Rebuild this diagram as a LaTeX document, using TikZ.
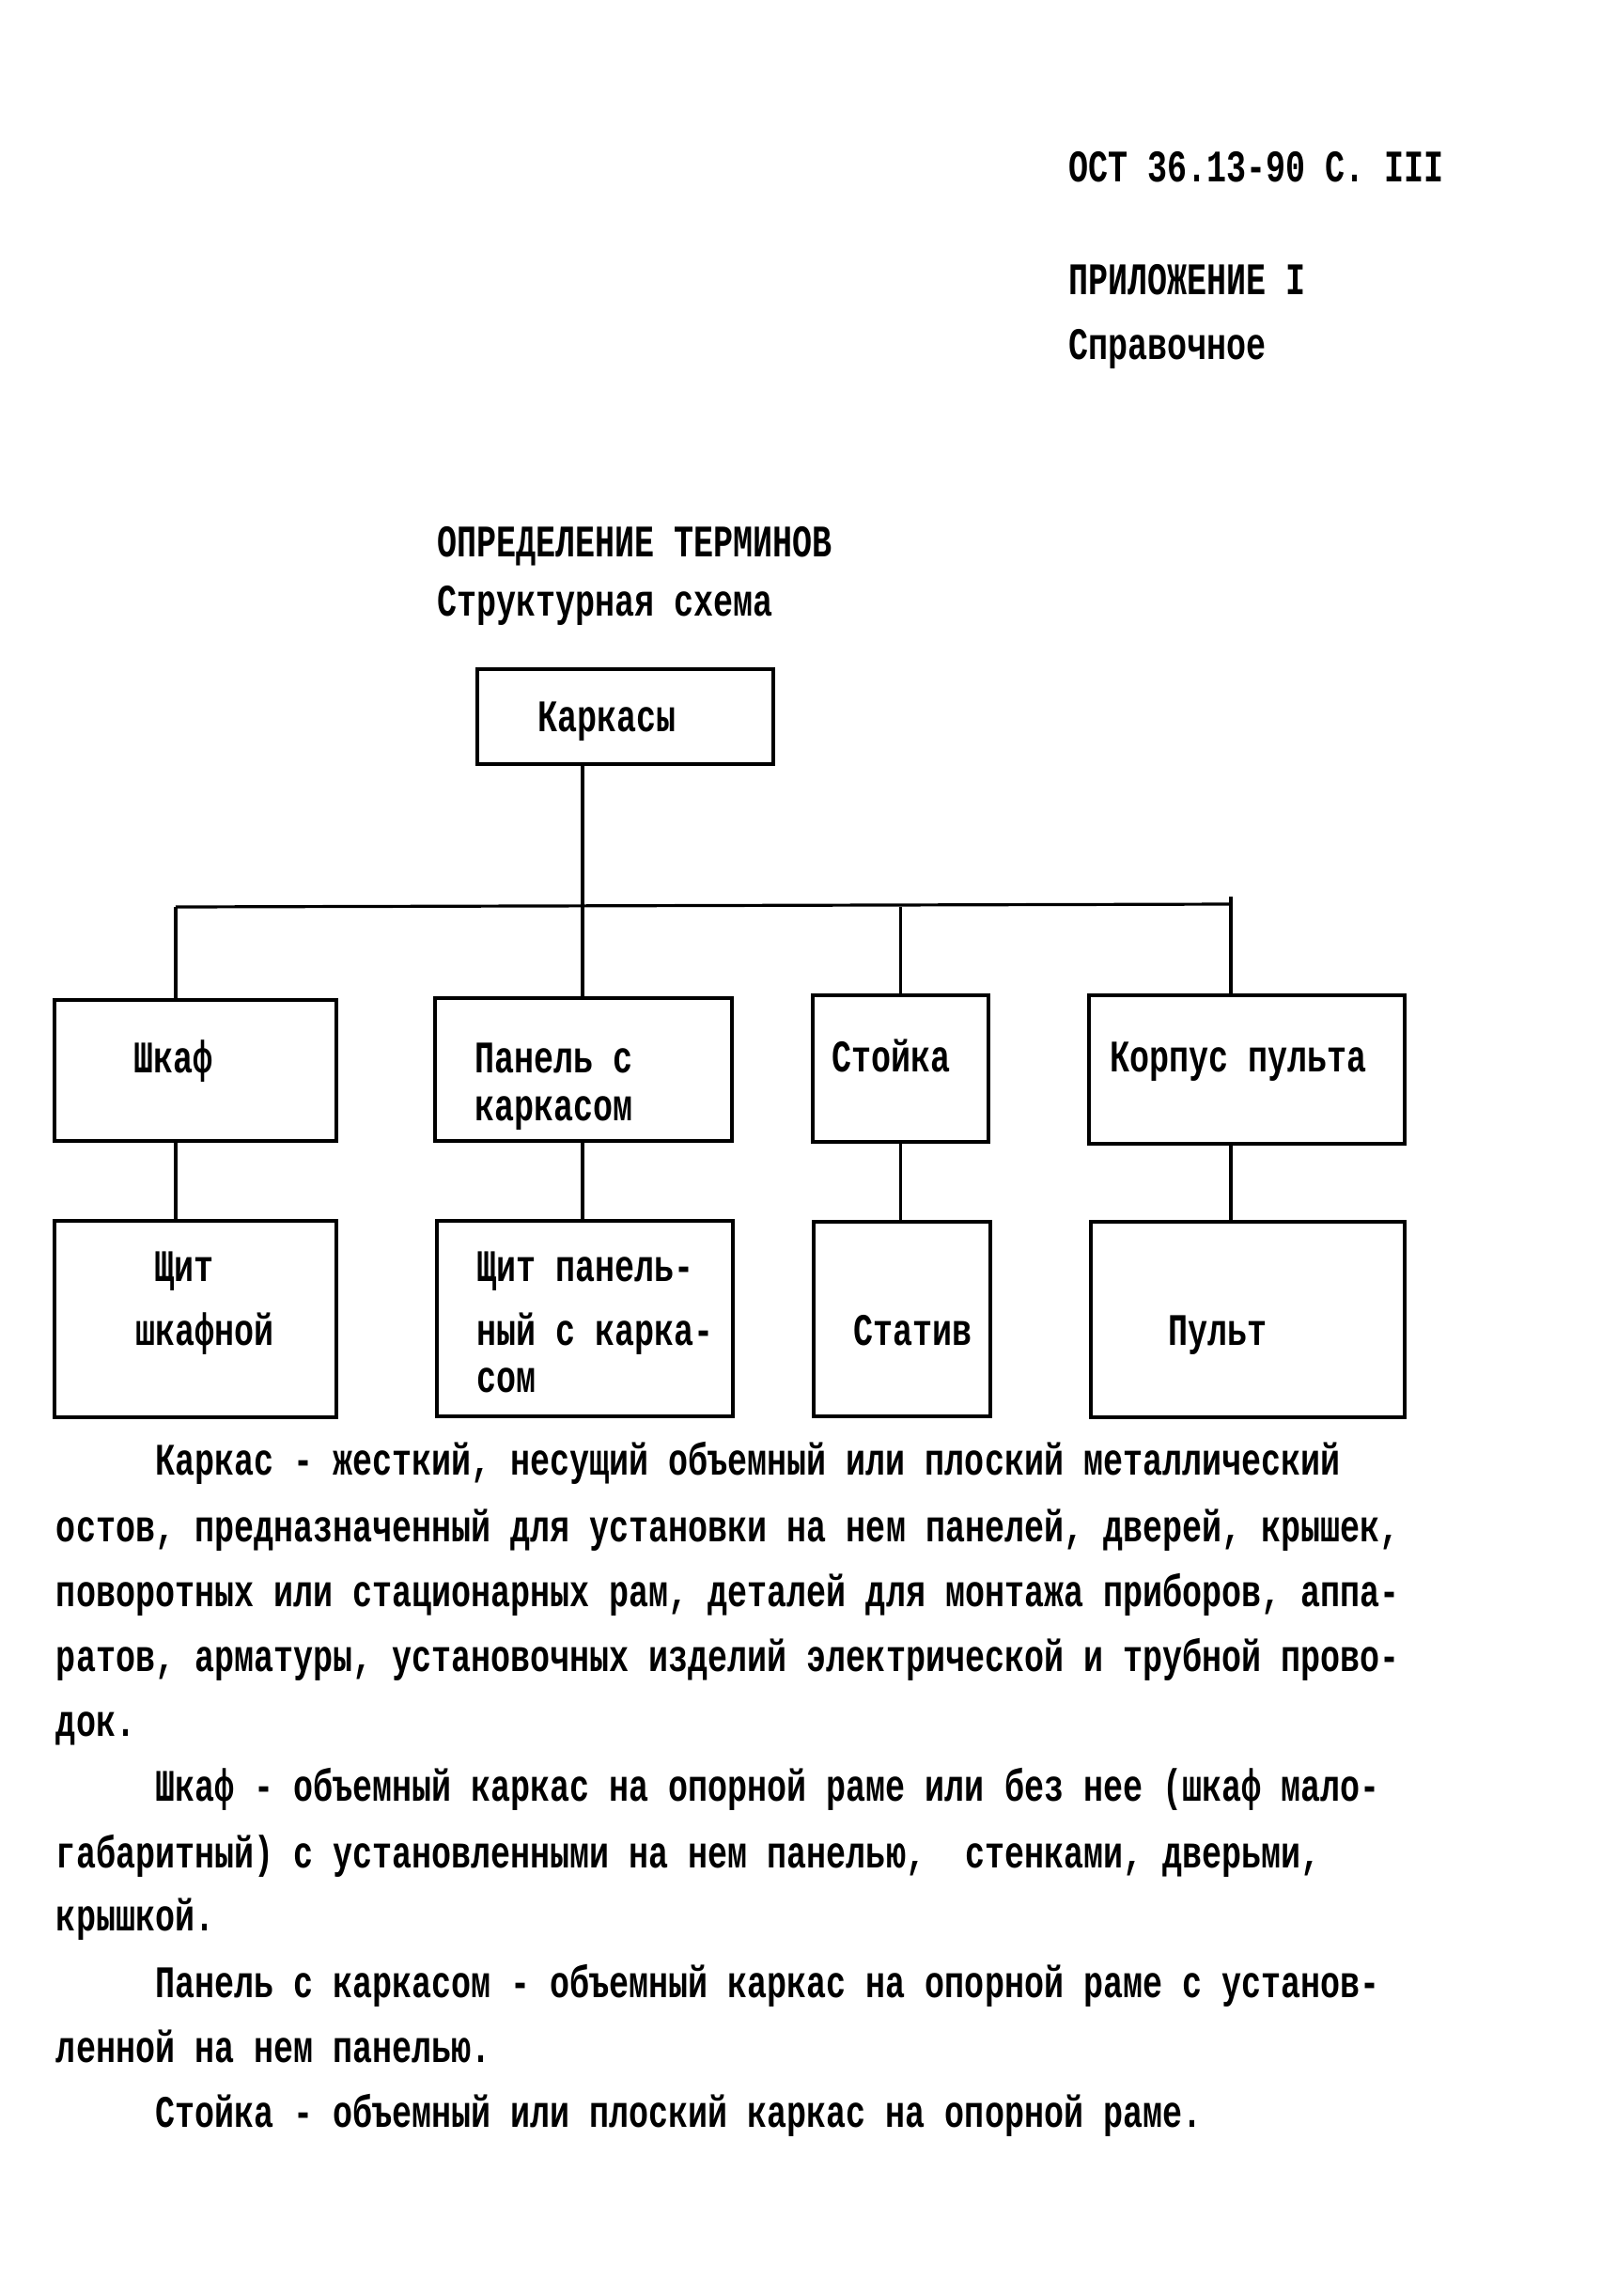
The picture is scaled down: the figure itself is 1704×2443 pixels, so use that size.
\documentclass[tikz,border=0pt]{standalone}
\usepackage{fontspec}
\newfontfamily\tw[FakeStretch=0.73]{Liberation Mono}
\begin{document}
\begin{tikzpicture}[x=0.5pt,y=-0.5pt,
  txt/.style={anchor=base west,inner sep=0pt,outer sep=0pt,font=\tw\bfseries\fontsize{24}{24}\selectfont},
  box/.style={draw,line width=2.2pt,rectangle,inner sep=0pt,outer sep=0pt},
  conn/.style={line width=1.6pt}]
\useasboundingbox (0,0) rectangle (1704,2443);
\fill[white] (0,0) rectangle (1704,2443);
% header
\node[txt] (hdr) at (1137,193) {ОСТ 36.13-90 С. III};
\node[txt] (app) at (1137,313) {ПРИЛОЖЕНИЕ I};
\node[txt] (spr) at (1137,382) {Справочное};
\node[txt] (opr) at (465,592) {ОПРЕДЕЛЕНИЕ ТЕРМИНОВ};
\node[txt] (str) at (465,655) {Структурная схема};
% boxes
\node[box,minimum width=157.5pt,minimum height=50.5pt] (karkasy) at (665.5,762.5) {};
\node[box,minimum width=150pt,minimum height=75pt] (shkaf) at (208,1139) {};
\node[box,minimum width=158pt,minimum height=76pt] (panel) at (621,1138) {};
\node[box,minimum width=93.5pt,minimum height=78pt] (stoika) at (958.5,1137) {};
\node[box,minimum width=168pt,minimum height=79pt] (korpus) at (1327,1138) {};
\node[box,minimum width=150pt,minimum height=104.5pt] (shchit) at (208,1403.5) {};
\node[box,minimum width=157.5pt,minimum height=104pt] (shchitpan) at (622.5,1403) {};
\node[box,minimum width=94pt,minimum height=103.5pt] (stativ) at (960,1403.5) {};
\node[box,minimum width=167pt,minimum height=104pt] (pult) at (1328,1404) {};
% box texts
\node[txt] (t0) at (572,778) {Каркасы};
\node[txt] (t1) at (142,1141) {Шкаф};
\node[txt] (t2a) at (505,1141) {Панель с};
\node[txt] (t2b) at (505,1192) {каркасом};
\node[txt] (t3) at (885,1140) {Стойка};
\node[txt] (t4) at (1181,1140) {Корпус пульта};
\node[txt] (t5a) at (164,1363) {Щит};
\node[txt] (t5b) at (144,1431) {шкафной};
\node[txt] (t6a) at (507,1363) {Щит панель-};
\node[txt] (t6b) at (507,1431) {ный с карка-};
\node[txt] (t6c) at (507,1481) {сом};
\node[txt] (t7) at (908,1431) {Статив};
\node[txt] (t8) at (1243,1431) {Пульт};
% connectors
\coordinate (busL) at (187,965);
\coordinate (busR) at (1310,962);
\coordinate (trunk) at (620,965);
\draw[conn] (busL) -- (busR);
\draw[conn] (busR) -- ++(0,-8);
\draw[conn] (karkasy.south -| trunk) -- (panel.north -| trunk);
\draw[conn] (busL) -- (busL |- shkaf.north);
\draw[conn] (stoika.north) -- (stoika.north |- busL);
\draw[conn] (busR) -- (busR |- korpus.north);
\draw[conn] (busL |- shkaf.south) -- (busL |- shchit.north);
\draw[conn] (panel.south -| trunk) -- (shchitpan.north -| trunk);
\draw[conn] (stoika.south) -- (stoika.south |- stativ.north);
\draw[conn] (busR |- korpus.south) -- (busR |- pult.north);
% body text
\node[txt] (b1) at (165,1569) {Каркас - жесткий, несущий объемный или плоский металлический};
\node[txt] (b2) at (60,1640) {остов, предназначенный для установки на нем панелей, дверей, крышек,};
\node[txt] (b3) at (60,1709) {поворотных или стационарных рам, деталей для монтажа приборов, аппа-};
\node[txt] (b4) at (60,1778) {ратов, арматуры, установочных изделий электрической и трубной прово-};
\node[txt] (b5) at (60,1847) {док.};
\node[txt] (b6) at (165,1916) {Шкаф - объемный каркас на опорной раме или без нее (шкаф мало-};
\node[txt] (b7) at (60,1987) {габаритный) с установленными на нем панелью,~ стенками, дверьми,};
\node[txt] (b8) at (60,2054) {крышкой.};
\node[txt] (b9) at (165,2125) {Панель с каркасом - объемный каркас на опорной раме с установ-};
\node[txt] (b10) at (60,2194) {ленной на нем панелью.};
\node[txt] (b11) at (165,2263) {Стойка - объемный или плоский каркас на опорной раме.};
\end{tikzpicture}
\end{document}
